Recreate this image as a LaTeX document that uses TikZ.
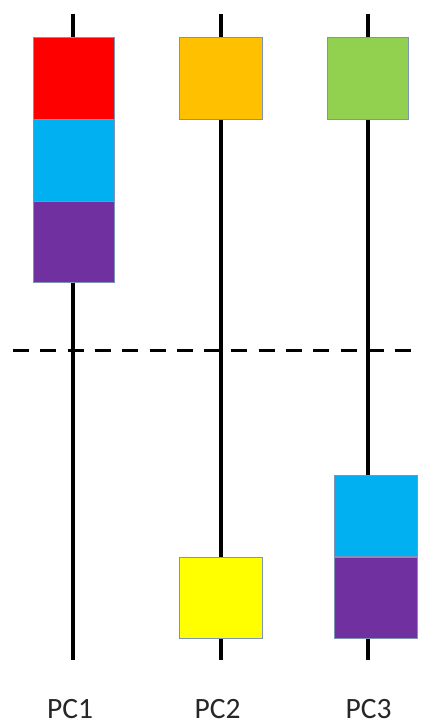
\documentclass[tikz,border=0pt]{standalone}
\usepackage{fontspec}
\setmainfont{Carlito}
\definecolor{cRed}{HTML}{FF0000}
\definecolor{cBlue}{HTML}{00B0F0}
\definecolor{cPurple}{HTML}{7030A0}
\definecolor{cOrange}{HTML}{FFC000}
\definecolor{cGreen}{HTML}{92D050}
\definecolor{cYellow}{HTML}{FFFF00}
\definecolor{cEdge}{HTML}{7F93B8}
\definecolor{cText}{HTML}{262626}
\tikzset{
  blk/.style={draw=cEdge, line width=0.9pt, minimum width=81pt, minimum height=81.5pt, inner sep=0pt, outer sep=0pt},
  axis/.style={line width=4pt, black},
  sep/.style={line width=3pt, black, dash pattern=on 16pt off 11.3pt},
  lbl/.style={font=\fontsize{29.5}{34}\selectfont, text=cText, anchor=base, inner sep=0pt, text depth=0pt}
}
\begin{document}
\begin{tikzpicture}[x=1pt,y=-1pt]
\useasboundingbox (0,0) rectangle (432,722);
% axis end points
\coordinate (t1) at (73,14);  \coordinate (b1) at (73,660);
\coordinate (t2) at (221,14); \coordinate (b2) at (221,660);
\coordinate (t3) at (368,14); \coordinate (b3) at (368,660);
\draw[axis] (t1) -- (b1);
\draw[axis] (t2) -- (b2);
\draw[axis] (t3) -- (b3);
% dashed separator
\coordinate (dl) at (13,350);
\coordinate (dr) at (422,350);
\draw[sep] (dl) -- (dr);
% PC1 boxes
\node[blk, fill=cRed]    (r1) at (73.5,78.5) {};
\node[blk, fill=cBlue]   (u1) at (73.5,160.3) {};
\node[blk, fill=cPurple] (p1) at (73.5,242) {};
% PC2 boxes
\node[blk, fill=cOrange, minimum width=83pt] (o2) at (220.5,78.5) {};
\node[blk, fill=cYellow, minimum width=83pt] (y2) at (220.5,598) {};
% PC3 boxes
\node[blk, fill=cGreen]  (g3) at (367.5,78.5) {};
\node[blk, fill=cBlue, minimum width=83pt]   (u3) at (375.5,516) {};
\node[blk, fill=cPurple, minimum width=83pt] (p3) at (375.5,598) {};
% labels
\node[lbl] (l1) at (70,718.5) {PC1};
\node[lbl] (l2) at (217.5,718.5) {PC2};
\node[lbl] (l3) at (368.5,718.5) {PC3};
\end{tikzpicture}
\end{document}
